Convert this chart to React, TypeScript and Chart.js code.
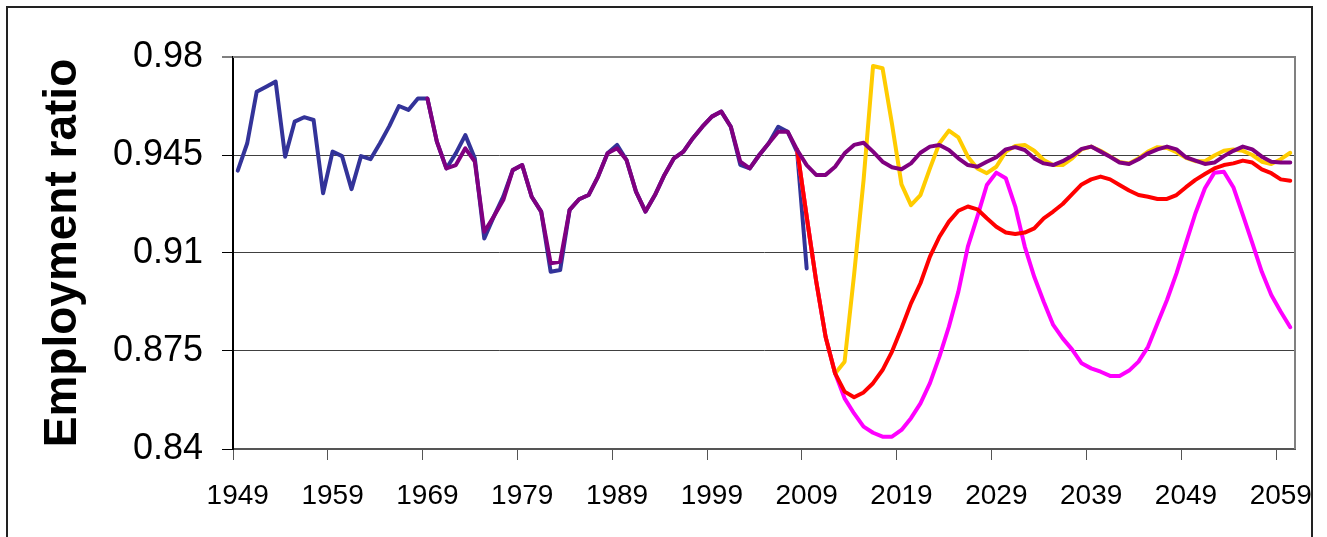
import React, { useEffect, useRef } from 'react';
import { Chart, registerables } from 'chart.js';

Chart.register(...registerables);

// Categories (one per year)
const years: string[] = [
  '1949','1950','1951','1952','1953','1954','1955','1956','1957','1958',
  '1959','1960','1961','1962','1963','1964','1965','1966','1967','1968',
  '1969','1970','1971','1972','1973','1974','1975','1976','1977','1978',
  '1979','1980','1981','1982','1983','1984','1985','1986','1987','1988',
  '1989','1990','1991','1992','1993','1994','1995','1996','1997','1998',
  '1999','2000','2001','2002','2003','2004','2005','2006','2007','2008',
  '2009','2010','2011','2012','2013','2014','2015','2016','2017','2018',
  '2019','2020','2021','2022','2023','2024','2025','2026','2027','2028',
  '2029','2030','2031','2032','2033','2034','2035','2036','2037','2038',
  '2039','2040','2041','2042','2043','2044','2045','2046','2047','2048',
  '2049','2050','2051','2052','2053','2054','2055','2056','2057','2058',
  '2059','2060',
];

// Historical series (blue), 1949-2009
const blueStart = 1949;
const blueValues = [
  0.9394, 0.9492, 0.9676, 0.9694, 0.9712, 0.9444, 0.9569, 0.9585, 0.9575, 0.9313,
  0.9462, 0.9446, 0.9328, 0.9446, 0.9435, 0.9492, 0.9554, 0.9625, 0.9611, 0.9652,
  0.9652, 0.9498, 0.9402, 0.9456, 0.9521, 0.9438, 0.9152, 0.923, 0.9301, 0.9396,
  0.9414, 0.9301, 0.9248, 0.9033, 0.9039, 0.9254, 0.9292, 0.9307, 0.9373, 0.9456,
  0.9486, 0.9432, 0.9319, 0.9248, 0.9307, 0.9379, 0.9438, 0.9462, 0.951, 0.9551,
  0.9587, 0.9605, 0.9551, 0.9415, 0.9402, 0.945, 0.9492, 0.9551, 0.9533, 0.946,
  0.9045,
];

// Model series (purple), 1969-2060
const purpleStart = 1969;
const purpleValues = [
  0.9652, 0.9498, 0.9402, 0.9414, 0.9474, 0.9426, 0.9176, 0.923, 0.9289, 0.9396,
  0.9414, 0.9301, 0.9248, 0.9063, 0.9069, 0.9254, 0.9292, 0.9307, 0.9373, 0.9456,
  0.9474, 0.9432, 0.9319, 0.9248, 0.9307, 0.9379, 0.9438, 0.9462, 0.951, 0.9551,
  0.9587, 0.9605, 0.9551, 0.9426, 0.9402, 0.945, 0.9492, 0.9533, 0.9533, 0.9468,
  0.9414, 0.9379, 0.9379, 0.9408, 0.9456, 0.9486, 0.9494, 0.9462, 0.9426, 0.9406,
  0.9399, 0.942, 0.9458, 0.948, 0.9486, 0.9468, 0.9438, 0.9414, 0.9408, 0.9426,
  0.9442, 0.947, 0.9478, 0.9468, 0.9438, 0.942, 0.9414, 0.9428, 0.9447, 0.9472,
  0.948, 0.9462, 0.9444, 0.9423, 0.9418, 0.9435, 0.9456, 0.947, 0.948, 0.947,
  0.9442, 0.943, 0.9418, 0.9423, 0.9446, 0.9465, 0.948, 0.947, 0.9444, 0.9426,
  0.9423, 0.9423,
];

// Scenario series, 2008-2060
const scenarioStart = 2008;
const redValues = [
  0.9468, 0.923, 0.9, 0.88, 0.867, 0.8605, 0.8585, 0.8602, 0.8635, 0.8682,
  0.8748, 0.8831, 0.892, 0.8992, 0.9087, 0.9158, 0.9212, 0.9251, 0.9266, 0.9256,
  0.9224, 0.9194, 0.9173, 0.9168, 0.9173, 0.9188, 0.9224, 0.9248, 0.9275, 0.931,
  0.9345, 0.9363, 0.9373, 0.9363, 0.9343, 0.9323, 0.9307, 0.9301, 0.9293, 0.9293,
  0.9307, 0.9335, 0.9361, 0.9382, 0.9402, 0.9414, 0.942, 0.943, 0.9423, 0.9399,
  0.9385, 0.9363, 0.9358,
];
const yellowValues = [
  0.9468, 0.923, 0.9, 0.88, 0.867, 0.8712, 0.9022, 0.936, 0.9768, 0.976,
  0.956, 0.9345, 0.9271, 0.9307, 0.9402, 0.9492, 0.9537, 0.9513, 0.9444, 0.9402,
  0.9385, 0.9408, 0.9462, 0.9482, 0.9486, 0.9465, 0.9432, 0.9414, 0.9414, 0.9438,
  0.947, 0.948, 0.9465, 0.9445, 0.9425, 0.942, 0.9438, 0.9462, 0.9478, 0.9475,
  0.946, 0.944, 0.9428, 0.9428, 0.9448, 0.9465, 0.947, 0.9465, 0.945, 0.9426,
  0.9418, 0.9435, 0.9458,
];
const magentaValues = [
  0.9468, 0.923, 0.9, 0.88, 0.867, 0.8581, 0.8527, 0.848, 0.8458, 0.8444,
  0.8444, 0.8468, 0.851, 0.8563, 0.8635, 0.873, 0.8837, 0.8962, 0.9123, 0.923,
  0.9343, 0.9387, 0.9367, 0.9266, 0.9123, 0.9015, 0.8926, 0.8843, 0.8795, 0.8755,
  0.8706, 0.8688, 0.8676, 0.8661, 0.8661, 0.868, 0.8712, 0.8765, 0.8849, 0.8932,
  0.9027, 0.9135, 0.9242, 0.9331, 0.9387, 0.939, 0.9335, 0.9236, 0.9135, 0.9033,
  0.895, 0.889, 0.8835,
];

// Y axis ticks
const yTickValues = [0.84, 0.875, 0.91, 0.945, 0.98];
const yTickLabels = ['0.84', '0.875', '0.91', '0.945', '0.98'];
const yTitle = 'Employment ratio';

const FONT = "'Liberation Sans', Arial, Helvetica, sans-serif";

function align(start: number, values: number[]): (number | null)[] {
  return years.map((y) => {
    const i = Number(y) - start;
    return i >= 0 && i < values.length ? values[i] : null;
  });
}

export default function App() {
  const ref = useRef<HTMLCanvasElement>(null);

  useEffect(() => {
    const canvas = ref.current;
    if (!canvas) return;

    const plotFrame = {
      id: 'plotFrame',
      beforeDatasetsDraw(chart: any) {
        const { ctx, chartArea: a } = chart;
        ctx.save();
        ctx.strokeStyle = '#808080';
        ctx.lineWidth = 2;
        ctx.beginPath();
        ctx.moveTo(a.left, a.top);
        ctx.lineTo(a.right, a.top);
        ctx.lineTo(a.right, a.bottom);
        ctx.stroke();
        ctx.restore();
      },
    };

    const chart = new Chart(canvas, {
      type: 'line',
      data: {
        labels: years,
        datasets: [
          { label: 'Model', data: align(purpleStart, purpleValues), borderColor: '#800080', order: 0 },
          { label: 'Scenario A', data: align(scenarioStart, redValues), borderColor: '#FF0000', order: 1 },
          { label: 'Scenario C', data: align(scenarioStart, magentaValues), borderColor: '#FF00FF', order: 2 },
          { label: 'Scenario B', data: align(scenarioStart, yellowValues), borderColor: '#FFCC00', order: 3 },
          { label: 'Actual', data: align(blueStart, blueValues), borderColor: '#333399', order: 4 },
        ],
      },
      options: {
        animation: false,
        responsive: false,
        maintainAspectRatio: false,
        layout: { padding: { left: 0, top: 57, right: 32, bottom: 0 } },
        plugins: { legend: { display: false }, tooltip: { enabled: false } },
        elements: {
          point: { radius: 0, hoverRadius: 0 },
          line: { borderWidth: 4, tension: 0, borderJoinStyle: 'round', borderCapStyle: 'round', fill: false },
        },
        scales: {
          x: {
            type: 'category',
            offset: true,
            grid: {
              offset: true,
              drawOnChartArea: false,
              drawTicks: true,
              tickLength: 11,
              tickWidth: 1,
              tickColor: (c: any) => (c.index % 10 === 0 ? '#555555' : 'rgba(0,0,0,0)'),
            },
            border: { display: true, color: '#555555', width: 2 },
            ticks: {
              autoSkip: false,
              maxRotation: 0,
              minRotation: 0,
              padding: 19,
              color: '#000',
              font: { family: FONT, size: 28 },
              callback: (_v: any, i: number) => (i % 10 === 0 ? years[i] : ''),
            },
            afterFit: (s: any) => {
              s.height = 88;
            },
          },
          y: {
            type: 'linear',
            min: 0.84,
            max: 0.98,
            afterBuildTicks: (s: any) => {
              s.ticks = yTickValues.map((v) => ({ value: v }));
            },
            grid: {
              color: (c: any) => (c.tick && c.tick.value > 0.97 ? '#808080' : '#404040'),
              lineWidth: (c: any) => (c.tick && c.tick.value > 0.97 ? 2 : 1),
              tickLength: 11,
              tickColor: '#000',
              tickWidth: 1,
            },
            border: { display: true, color: '#000', width: 2 },
            ticks: {
              padding: 19,
              color: '#000',
              font: { family: FONT, size: 36 },
              callback: (_v: any, i: number) => yTickLabels[i],
            },
            title: {
              display: true,
              text: yTitle,
              color: '#000',
              font: { family: FONT, size: 46, weight: 'bold' },
              padding: { top: 36, bottom: 0 },
            },
            afterFit: (s: any) => {
              s.width = 233;
            },
          },
        },
      },
      plugins: [plotFrame],
    } as any);

    return () => chart.destroy();
  }, []);

  return (
    <>
      <canvas
        ref={ref}
        width={1327}
        height={537}
        style={{ position: 'absolute', left: 0, top: 0, width: 1327, height: 537 }}
      />
      <div
        style={{
          position: 'absolute',
          left: 6,
          top: 6,
          width: 1307,
          height: 531,
          boxSizing: 'border-box',
          border: '2px solid #222',
          borderBottom: 'none',
          pointerEvents: 'none',
        }}
      />
    </>
  );
}
